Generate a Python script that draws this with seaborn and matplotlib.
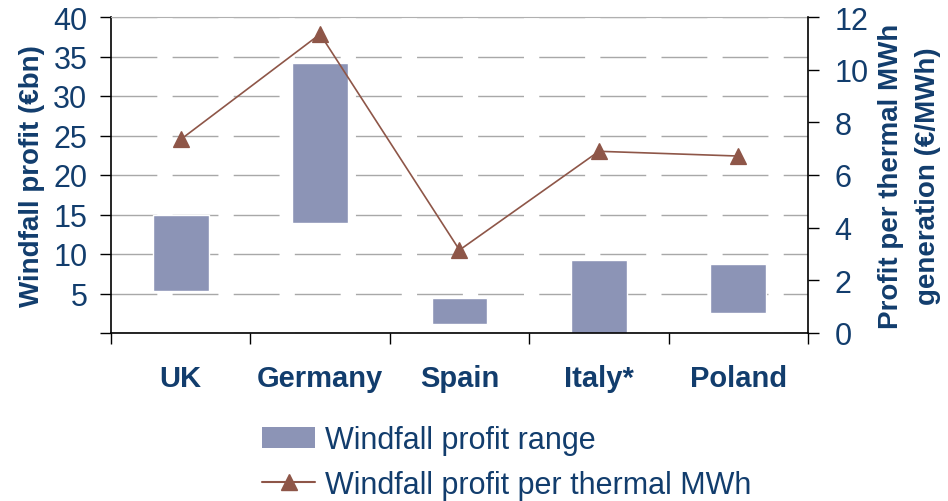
import numpy as np
import pandas as pd
import matplotlib
matplotlib.use('Agg')
import matplotlib.pyplot as plt
import seaborn as sns
from matplotlib.patches import Patch
from matplotlib.lines import Line2D

# 데이터
countries = ['UK', 'Germany', 'Spain', 'Italy*', 'Poland']
profit_low = [5.3, 13.9, 1.1, 0.0, 2.5]      # €bn
profit_high = [15.0, 34.2, 4.4, 9.2, 8.7]    # €bn
per_mwh = [7.35, 11.35, 3.15, 6.9, 6.72]     # €/MWh

navy = '#123d6d'
bar_col = '#8c94b6'
line_col = '#8e5648'

sns.set_style('white')
plt.rcParams['font.family'] = ['Liberation Sans', 'DejaVu Sans']
plt.rcParams['font.size'] = 20
plt.rcParams['lines.scale_dashes'] = False

df = pd.DataFrame({'country': countries,
                   'low': profit_low,
                   'high': profit_high,
                   'mwh': per_mwh})
df['span'] = df['high'] - df['low']

fig = plt.figure(figsize=(9.48, 5.02), dpi=100)
ax = fig.add_axes([111/948, 1-334/502, (808-111)/948, (334-18)/502])

sns.barplot(data=df, x='country', y='span', bottom=df['low'].values,
            color=bar_col, saturation=1, width=0.4, ax=ax, zorder=2)

ax.set_ylim(0, 40)
ax.set_xlim(-0.5, 4.5)
ax.set_yticks(np.arange(0, 41, 5))
ax.set_yticklabels([''] + [str(v) for v in range(5, 41, 5)], fontsize=22)
ax.yaxis.grid(True, color='#a8a8a8', linewidth=1, linestyle=(0, (33, 11)))
ax.set_axisbelow(True)

# 구간 눈금
ax.set_xticks(np.arange(-0.5, 5, 1))
ax.set_xticklabels([])
ax.set_xticks(range(len(countries)), minor=True)
ax.set_xticklabels(countries, minor=True, fontweight='bold', color=navy, fontsize=21)
ax.tick_params(axis='x', which='major', direction='out', length=8, width=1, color='black', bottom=True)
ax.tick_params(axis='x', which='minor', length=0, pad=22)
ax.tick_params(axis='y', direction='out', length=8, width=1, color='black', left=True, labelcolor=navy, pad=9)
ax.set_xlabel('')
ax.set_ylabel('Windfall profit (€bn)', fontweight='bold', color=navy, labelpad=6)

for s in ['left', 'bottom']:
    ax.spines[s].set_color('black')
    ax.spines[s].set_linewidth(1.2)
ax.spines['top'].set_color('#b0b0b0')
ax.spines['right'].set_visible(False)

ax2 = ax.twinx()
sns.pointplot(x=countries, y=per_mwh, ax=ax2, color=line_col,
              markers='^', markersize=11, linewidth=1.2)
ax2.set_ylim(0, 12)
ax2.set_xlim(-0.5, 4.5)
ax2.set_yticks(np.arange(0, 13, 2))
ax2.set_yticklabels([str(v) for v in range(0, 13, 2)], fontsize=22)
ax2.tick_params(axis='y', direction='out', length=8, width=1, color='black', right=True, labelcolor=navy, pad=11)
ax2.set_ylabel('Profit per thermal MWh\ngeneration (€/MWh)', fontweight='bold', color=navy,
               labelpad=7, linespacing=1.55)
for s in ['left', 'top', 'bottom']:
    ax2.spines[s].set_visible(False)
ax2.spines['right'].set_color('black')
ax2.spines['right'].set_linewidth(1.2)

handles = [Patch(facecolor=bar_col, edgecolor='none'),
           Line2D([0], [0], color=line_col, lw=1.5, marker='^', markersize=11)]
fig.legend(handles, ['Windfall profit range', 'Windfall profit per thermal MWh'],
           loc='upper left', bbox_to_anchor=(262/948, 1-426/502), frameon=False,
           borderaxespad=0, borderpad=0, handlelength=1.75, handletextpad=0.3,
           labelspacing=0.48, labelcolor=navy, fontsize=22)

fig.savefig('out.png', dpi=100)
